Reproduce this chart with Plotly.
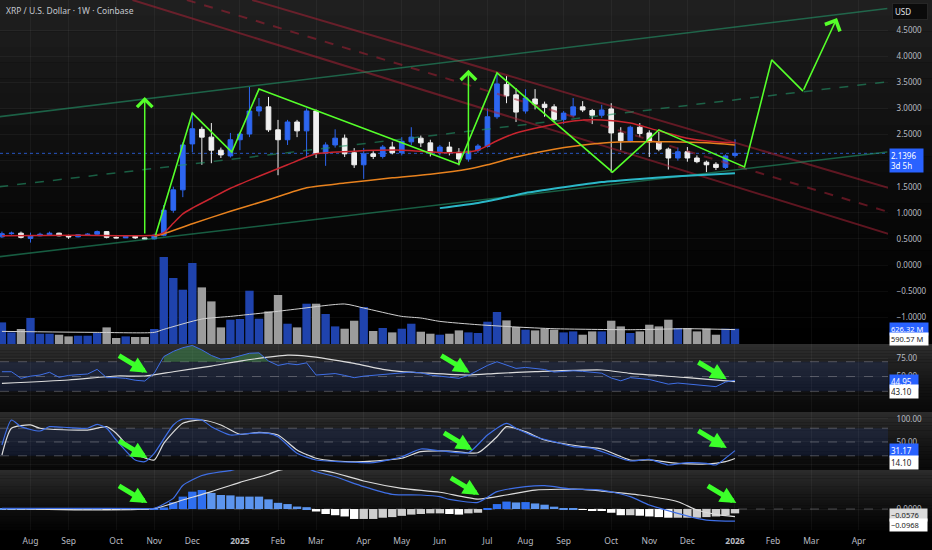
import pandas as pd
import plotly.graph_objects as go

# weekly bars, XRP / USD on Coinbase
WEEKS = pd.date_range("2024-07-15", periods=78, freq="7D")

OPEN = [0.54, 0.60, 0.61, 0.51, 0.56, 0.58, 0.61, 0.56, 0.54, 0.58,
        0.59, 0.64, 0.53, 0.52, 0.55, 0.52, 0.50, 0.57, 1.05, 1.44,
        2.32, 2.60, 2.45, 2.20, 2.09, 2.40, 2.51, 2.95, 3.03, 2.59,
        2.40, 2.74, 2.57, 2.95, 2.14, 2.30, 2.43, 2.15, 1.92, 2.13,
        2.08, 2.26, 2.15, 2.36, 2.43, 2.34, 2.17, 2.26, 2.16, 2.03,
        2.20, 2.27, 2.84, 3.46, 3.26, 2.95, 3.18, 3.08, 3.03, 2.79,
        2.87, 3.03, 2.96, 2.87, 2.99, 2.53, 2.38, 2.64, 2.53, 2.36,
        2.22, 2.05, 2.17, 2.05, 1.97, 1.93, 1.87, 2.10]
HIGH = [0.64, 0.64, 0.64, 0.62, 0.62, 0.64, 0.62, 0.58, 0.59, 0.61,
        0.66, 0.65, 0.55, 0.56, 0.56, 0.53, 0.60, 1.15, 1.50, 2.35,
        2.91, 2.65, 2.72, 2.25, 2.53, 2.55, 3.41, 3.20, 3.22, 2.78,
        2.78, 2.78, 3.00, 2.98, 2.35, 2.60, 2.50, 2.24, 2.24, 2.18,
        2.30, 2.36, 2.45, 2.64, 2.48, 2.40, 2.30, 2.36, 2.24, 2.30,
        2.32, 3.00, 3.66, 3.62, 3.39, 3.37, 3.37, 3.13, 3.08, 2.95,
        3.20, 3.14, 2.99, 3.07, 3.10, 2.64, 2.67, 2.72, 2.58, 2.55,
        2.25, 2.25, 2.26, 2.10, 2.00, 1.97, 2.12, 2.41]
LOW = [0.52, 0.58, 0.51, 0.43, 0.55, 0.56, 0.55, 0.50, 0.53, 0.57,
       0.58, 0.51, 0.51, 0.52, 0.50, 0.49, 0.49, 0.55, 1.00, 1.30,
       2.16, 1.92, 1.95, 2.05, 2.06, 2.20, 2.45, 2.85, 2.55, 1.72,
       2.30, 2.45, 2.05, 2.05, 1.90, 2.25, 2.07, 1.86, 1.65, 2.03,
       2.04, 2.12, 2.10, 2.30, 2.26, 2.08, 2.10, 2.10, 1.91, 1.98,
       2.15, 2.25, 2.80, 3.10, 2.74, 2.90, 2.98, 2.84, 2.75, 2.70,
       2.83, 2.93, 2.70, 2.82, 1.77, 2.20, 2.35, 2.45, 2.07, 2.18,
       1.83, 2.00, 1.98, 1.95, 1.78, 1.82, 1.84, 2.06]
CLOSE = [0.60, 0.61, 0.53, 0.56, 0.59, 0.61, 0.56, 0.54, 0.58, 0.59,
         0.64, 0.53, 0.52, 0.55, 0.52, 0.50, 0.57, 1.05, 1.44, 2.30,
         2.61, 2.45, 2.20, 2.11, 2.40, 2.51, 2.95, 3.03, 2.59, 2.40,
         2.74, 2.57, 2.95, 2.14, 2.30, 2.43, 2.13, 1.92, 2.13, 2.08,
         2.26, 2.15, 2.37, 2.45, 2.34, 2.16, 2.26, 2.17, 2.03, 2.18,
         2.28, 2.84, 3.47, 3.24, 2.93, 3.20, 3.08, 3.02, 2.79, 2.91,
         3.03, 2.97, 2.87, 2.97, 2.53, 2.38, 2.64, 2.52, 2.36, 2.22,
         2.05, 2.17, 2.05, 1.98, 1.92, 1.87, 2.09, 2.1396]
VOLUME_M = [886, 476, 615, 1066, 422, 422, 381, 312, 340, 340,
            451, 681, 246, 312, 287, 287, 615, 3567, 2706, 2226,
            3321, 2321, 1747, 681, 996, 1025, 2185, 1037, 1337, 2009,
            832, 681, 1652, 1652, 1230, 722, 627, 955, 1517, 533,
            656, 476, 627, 832, 504, 422, 381, 422, 558, 476,
            451, 914, 1312, 968, 697, 586, 558, 627, 586, 476,
            517, 381, 517, 517, 955, 722, 451, 517, 791, 722,
            996, 656, 656, 517, 627, 381, 627, 626.32]
VOL_MA_IDX = [0, 10, 16, 17, 21, 24, 28, 31, 36, 38, 42, 44, 46, 50, 54, 58, 66, 72, 77]
VOL_MA = [517, 476, 476, 600, 1025, 1132, 1296, 1435, 1640, 1476, 1132, 1066, 927, 791,
          697, 627, 586, 627, 590.57]

# moving averages on price (read at selected weeks)
RED_MA_IDX = [0, 8, 16, 17, 18, 19, 20, 22, 24, 27, 30, 33, 37, 42, 47, 50, 52, 54, 57,
              60, 63, 66, 69, 72, 75, 77]
RED_MA = [0.56, 0.57, 0.57, 0.62, 0.80, 0.98, 1.09, 1.28, 1.47, 1.70, 1.92, 2.13, 2.18,
          2.20, 2.15, 2.20, 2.38, 2.53, 2.66, 2.76, 2.78, 2.72, 2.57, 2.43, 2.36, 2.34]
ORANGE_MA_IDX = [16, 17, 20, 24, 28, 32, 36, 41, 45, 49, 51, 54, 58, 62, 66, 70, 74, 77]
ORANGE_MA = [0.55, 0.60, 0.79, 1.03, 1.25, 1.48, 1.57, 1.67, 1.74, 1.84, 1.92, 2.07, 2.22,
             2.32, 2.36, 2.36, 2.34, 2.30]
TEAL_MA_IDX = [46, 50, 52, 55, 59, 63, 67, 71, 75, 77]
TEAL_MA = [1.09, 1.19, 1.26, 1.38, 1.49, 1.59, 1.65, 1.70, 1.74, 1.76]

# drawings on the price pane
RED_TOP_X = ["2025-01-15", "2026-04-28"]
RED_TOP_Y = [5.077, 1.475]
RED_MID_X = ["2024-11-28", "2026-04-28"]
RED_MID_Y = [5.077, 1.015]
RED_BOT_X = ["2024-10-19", "2026-04-28"]
RED_BOT_Y = [5.077, 0.594]
GREEN_X = ["2024-07-13", "2026-04-27"]
GREEN_TOP_Y = [2.841, 4.914]
GREEN_MID_Y = [1.50, 3.51]
GREEN_BOT_Y = [0.159, 2.167]

ZIGZAG_X = ["2024-11-05", "2024-12-02", "2024-12-31", "2025-01-20", "2025-06-16",
            "2025-07-14", "2025-10-07", "2025-11-10", "2026-01-12", "2026-02-01",
            "2026-02-24"]
ZIGZAG_Y = [0.575, 2.91, 2.165, 3.37, 1.93, 3.68, 1.78, 2.59, 1.88, 3.93, 3.33]
ZIGZAG_TIP_X = "2026-03-21"
ZIGZAG_TIP_Y = 4.73

MEASURE_X = ["2024-10-28", "2025-06-23"]
MEASURE_LOW = [0.575, 2.10]
MEASURE_HIGH = [3.22, 3.74]

LAST_PRICE = 2.1396

# RSI
RSI = [56.5, 56.5, 47.6, 50.5, 52, 55.7, 49, 51.5, 52.5, 53.4,
       59.7, 48.4, 48.5, 47.5, 45, 43.9, 54.5, 77, 84, 89,
       92, 86, 78.5, 73.5, 74.5, 78.5, 81.5, 82, 71, 65,
       67.5, 66, 68.5, 52, 53.5, 54, 51.5, 48.4, 50.5, 51.5,
       53, 54, 55.3, 56, 55, 52, 50.5, 49, 47.6, 51.5,
       58, 65, 70, 65.5, 61, 62.3, 61, 59.5, 56, 56.5,
       57.8, 57, 56, 54.5, 48, 44.2, 48.5, 47.5, 46, 42.8,
       39.7, 41.2, 40, 38.3, 37.5, 36.3, 42.5, 44.95]
RSI_MA_IDX = [0, 7, 12, 15, 18, 22, 25, 30, 32, 37, 40, 42, 44, 49, 52, 56, 63, 66, 72, 77]
RSI_MA = [40.8, 45.3, 50.7, 50.7, 56.5, 64.2, 70.9, 79, 77.7, 67.8, 59.7, 56.5, 55.1, 52,
          54.3, 56.5, 58.8, 54.3, 48.4, 43.1]
RSI_OB_IDX = list(range(17, 29))

# Stochastic RSI
STOCH_K_IDX = [0, 1, 2, 4, 5, 7, 9, 10, 11, 12, 14, 15, 16, 18, 19, 21, 22, 24, 26, 28,
               29, 31, 33, 37, 39, 42, 44, 46, 49, 51, 53, 54, 56, 58, 60, 62, 64, 66, 68, 70,
               72, 74, 75, 76, 77]
STOCH_K = [43.5, 97.8, 83.3, 73.9, 83.3, 81.1, 79.8, 88.5, 79.8, 54.3, 10.9, 7.2, 25.4, 87,
           100, 97.8, 83.3, 65.2, 68.9, 68.9, 61.5, 25.4, 10.9, 5.9, 5.0, 18, 34.8, 31, 26.7,
           65.2, 90.6, 79.8, 61.5, 50.7, 39.8, 36.3, 21.7, 8.7, 12.4, 0, 5, 3.6, 0, 14.6, 31.17]
STOCH_D_IDX = [0, 1, 3, 4, 9, 11, 12, 14, 16, 17, 19, 21, 23, 25, 27, 29, 31, 33, 35, 38,
               42, 44, 47, 50, 52, 53, 55, 57, 61, 63, 66, 68, 71, 74, 76, 77]
STOCH_D = [21.7, 79.8, 87, 79.8, 76, 83.3, 68.9, 25, 10.9, 47, 90.6, 97.8, 87, 66.7, 71,
           65.2, 32.6, 14.6, 8.7, 7.2, 14.6, 28.9, 30.4, 26.7, 61.5, 83.3, 72.4, 54.3, 39.8,
           34.8, 10.9, 10.9, 3.6, 2.2, 7.2, 14.1]

# MACD
MACD_IDX = [0, 8, 15, 16, 18, 19, 21, 23, 24, 26, 28, 30, 32, 33, 35, 38, 41, 44, 46, 47,
            50, 52, 55, 57, 60, 63, 66, 68, 71, 73, 74, 76, 77]
MACD = [0.006, 0.006, 0.004, 0.006, 0.086, 0.19, 0.27, 0.30, 0.31, 0.35, 0.36, 0.36, 0.33,
        0.30, 0.26, 0.18, 0.118, 0.113, 0.10, 0.078, 0.054, 0.14, 0.18, 0.188, 0.16, 0.153,
        0.10, 0.032, -0.035, -0.075, -0.089, -0.097, -0.0968]
SIGNAL_IDX = [0, 16, 19, 22, 25, 28, 29, 31, 33, 35, 38, 42, 46, 50, 53, 56, 61, 63, 67,
              71, 73, 75, 77]
SIGNAL = [0.004, 0.004, 0.073, 0.14, 0.215, 0.28, 0.31, 0.33, 0.32, 0.29, 0.226, 0.167,
          0.135, 0.08, 0.113, 0.153, 0.159, 0.145, 0.113, 0.059, -0.008, -0.043, -0.062]
HIST = [0.004, 0.004, 0.002, 0.003, 0.002, 0.003, 0.002, 0.001, 0.002, 0.002,
        0.003, -0.001, -0.002, -0.002, -0.003, -0.003, 0.002,
        0.013, 0.054, 0.10, 0.14, 0.153, 0.13, 0.113, 0.11, 0.10, 0.10, 0.10, 0.078, 0.05,
        0.04, 0.02, 0.015,
        -0.02, -0.04, -0.05, -0.06, -0.08, -0.08, -0.08, -0.07, -0.065, -0.055, -0.045,
        -0.04, -0.035, -0.035, -0.04, -0.045, -0.035, -0.03,
        0.002, 0.04, 0.06, 0.053, 0.056, 0.045, 0.035, 0.019, 0.008, 0.005,
        -0.005, -0.01, -0.013, -0.03, -0.05, -0.05, -0.054, -0.06, -0.065, -0.07, -0.07,
        -0.07, -0.07, -0.065, -0.06, -0.05, -0.035]

# green call-out arrows (tip positions) in the three lower panes
RSI_CALL_X = ["2024-10-30", "2025-06-24", "2025-12-30"]
RSI_CALL_Y = [55.1, 55.1, 46.2]
STOCH_CALL_X = ["2024-10-30", "2025-06-26", "2025-12-30"]
STOCH_CALL_Y = [15.2, 32.6, 37]
MACD_CALL_X = ["2024-10-30", "2025-07-01", "2026-01-06"]
MACD_CALL_Y = [0.048, 0.113, 0.048]

TICK_DATES = ["2024-08-05", "2024-09-02", "2024-10-07", "2024-11-04", "2024-12-02",
              "2025-01-06", "2025-02-03", "2025-03-03", "2025-04-07", "2025-05-05",
              "2025-06-02", "2025-07-07", "2025-08-04", "2025-09-01", "2025-10-06",
              "2025-11-03", "2025-12-01", "2026-01-05", "2026-02-02", "2026-03-02",
              "2026-04-06"]
TICK_TEXT = ["Aug", "Sep", "Oct", "Nov", "Dec", "<b>2025</b>", "Feb", "Mar", "Apr", "May",
             "Jun", "Jul", "Aug", "Sep", "Oct", "Nov", "Dec", "<b>2026</b>", "Feb", "Mar",
             "Apr"]
PRICE_TICKS = [-1.0, -0.5, 0.0, 0.5, 1.0, 1.5, 2.0, 2.5, 3.0, 3.5, 4.0, 4.5]

X_RANGE = ["2024-07-13 14:00", "2026-04-27 12:00"]

# COLORS
BLUE = "#2d66f0"
WHITE = "#f0f0f0"
VOL_UP = "#1f43ad"
VOL_DOWN = "#9c9c9c"
LINE_BLUE = "#3f6fe6"
LINE_WHITE = "#dcdcdc"
ZIG_GREEN = "#55ff2a"
CALL_GREEN = "#3cff2a"
RED_LINE = "rgba(165,32,52,0.55)"
GREEN_LINE = "rgba(35,150,105,0.6)"
TEXT = "#b8bbc2"
GRID = "rgba(255,255,255,0.045)"
FONT = "Noto Sans"

# pane layout (paper fractions, plot area is 530 px tall)
MAIN_DOM = [0.35094, 1.0]
RSI_DOM = [0.22264, 0.35094]
STOCH_DOM = [0.11321, 0.22264]
MACD_DOM = [0.0, 0.11321]


def at(idx):
    return [WEEKS[i] for i in idx]


fig = go.Figure()

# volume under the price pane
vol_colors = [VOL_UP if c >= o else VOL_DOWN for o, c in zip(OPEN, CLOSE)]
fig.add_trace(go.Bar(x=WEEKS, y=VOLUME_M, marker=dict(color=vol_colors, line_width=0),
                     xaxis="x", yaxis="y"))
fig.add_trace(go.Scatter(x=at(VOL_MA_IDX), y=VOL_MA, mode="lines",
                         line=dict(color="#d0d0d0", width=1, shape="spline", smoothing=0.6),
                         xaxis="x", yaxis="y"))

# channels
for xs, ys, dash in [(RED_TOP_X, RED_TOP_Y, "solid"), (RED_MID_X, RED_MID_Y, "dash"),
                     (RED_BOT_X, RED_BOT_Y, "solid")]:
    fig.add_trace(go.Scatter(x=xs, y=ys, mode="lines", line=dict(color=RED_LINE, width=2, dash=dash),
                             xaxis="x", yaxis="y2"))
for ys, dash in [(GREEN_TOP_Y, "solid"), (GREEN_MID_Y, "dash"), (GREEN_BOT_Y, "solid")]:
    fig.add_trace(go.Scatter(x=GREEN_X, y=ys, mode="lines",
                             line=dict(color=GREEN_LINE, width=1.5, dash=dash),
                             xaxis="x", yaxis="y2"))

# moving averages
fig.add_trace(go.Scatter(x=at(TEAL_MA_IDX), y=TEAL_MA, mode="lines",
                         line=dict(color="#2bb8c8", width=2, shape="spline", smoothing=0.6),
                         xaxis="x", yaxis="y2"))
fig.add_trace(go.Scatter(x=at(ORANGE_MA_IDX), y=ORANGE_MA, mode="lines",
                         line=dict(color="#e8821e", width=1.5, shape="spline", smoothing=0.6),
                         xaxis="x", yaxis="y2"))
fig.add_trace(go.Scatter(x=at(RED_MA_IDX), y=RED_MA, mode="lines",
                         line=dict(color="#c9252f", width=1.5, shape="spline", smoothing=0.6),
                         xaxis="x", yaxis="y2"))

fig.add_trace(go.Candlestick(
    x=WEEKS, open=OPEN, high=HIGH, low=LOW, close=CLOSE, xaxis="x", yaxis="y2",
    increasing=dict(line=dict(color=BLUE, width=1), fillcolor=BLUE),
    decreasing=dict(line=dict(color=WHITE, width=1), fillcolor=WHITE),
    whiskerwidth=0))

fig.add_trace(go.Scatter(x=ZIGZAG_X, y=ZIGZAG_Y, mode="lines",
                         line=dict(color=ZIG_GREEN, width=1.6), xaxis="x", yaxis="y2"))

# RSI pane
fig.add_trace(go.Scatter(x=at(RSI_OB_IDX), y=[70] * len(RSI_OB_IDX), mode="lines",
                         line=dict(width=0, color="rgba(0,0,0,0)"), xaxis="x2", yaxis="y3"))
fig.add_trace(go.Scatter(x=at(RSI_OB_IDX), y=[RSI[i] for i in RSI_OB_IDX], mode="lines",
                         line=dict(width=0, color="rgba(0,0,0,0)"), fill="tonexty",
                         fillcolor="rgba(70,160,90,0.45)", xaxis="x2", yaxis="y3"))
fig.add_trace(go.Scatter(x=at(RSI_MA_IDX), y=RSI_MA, mode="lines",
                         line=dict(color=LINE_WHITE, width=1.2, shape="spline", smoothing=0.6),
                         xaxis="x2", yaxis="y3"))
fig.add_trace(go.Scatter(x=WEEKS, y=RSI, mode="lines", line=dict(color=LINE_BLUE, width=1),
                         xaxis="x2", yaxis="y3"))

# Stoch RSI pane
fig.add_trace(go.Scatter(x=at(STOCH_D_IDX), y=STOCH_D, mode="lines",
                         line=dict(color=LINE_WHITE, width=1.2, shape="spline", smoothing=0.6),
                         xaxis="x3", yaxis="y4"))
fig.add_trace(go.Scatter(x=at(STOCH_K_IDX), y=STOCH_K, mode="lines",
                         line=dict(color=LINE_BLUE, width=1.2, shape="spline", smoothing=0.6),
                         xaxis="x3", yaxis="y4"))

# MACD pane
hist_colors = []
for i, v in enumerate(HIST):
    prev = HIST[i - 1] if i else v
    if v >= 0:
        hist_colors.append("#2f6ff0" if v > prev else "#5c95ee")
    else:
        hist_colors.append("#ffffff" if v < prev else "#cfcfcf")
fig.add_trace(go.Bar(x=WEEKS, y=HIST, marker=dict(color=hist_colors, line_width=0),
                     xaxis="x4", yaxis="y5"))
fig.add_trace(go.Scatter(x=at(SIGNAL_IDX), y=SIGNAL, mode="lines",
                         line=dict(color=LINE_WHITE, width=1.2, shape="spline", smoothing=0.6),
                         xaxis="x4", yaxis="y5"))
fig.add_trace(go.Scatter(x=at(MACD_IDX), y=MACD, mode="lines",
                         line=dict(color=LINE_BLUE, width=1.2, shape="spline", smoothing=0.6),
                         xaxis="x4", yaxis="y5"))


# background: each pane fades from grey at the top to black
def add_gradient(dom, top, bottom, steps=22, power=1.3):
    y0, y1 = dom
    for k in range(steps):
        t = (k + 0.5) / steps
        c = round(bottom + (top - bottom) * (1 - t) ** power)
        fig.add_shape(type="rect", xref="paper", yref="paper", x0=0, x1=1.06,
                      y0=y1 - (y1 - y0) * (k + 1) / steps - 0.0005,
                      y1=y1 - (y1 - y0) * k / steps,
                      fillcolor=f"rgb({c},{c},{c})", line_width=0, layer="below")


add_gradient(MAIN_DOM, 32, 0, power=1.4)
add_gradient(RSI_DOM, 46, 9)
add_gradient(STOCH_DOM, 44, 9)
add_gradient(MACD_DOM, 44, 4)

# indicator bands and levels
for xr, yr, lo, hi in [("x2 domain", "y3", 30, 70), ("x3 domain", "y4", 20, 80)]:
    fig.add_shape(type="rect", xref=xr, yref=yr, x0=0, x1=1, y0=lo, y1=hi,
                  fillcolor="rgba(41,98,255,0.11)", line_width=0, layer="below")
for xr, yr, lvl, dash in [("x2 domain", "y3", 70, "dash"), ("x2 domain", "y3", 30, "dash"),
                          ("x2 domain", "y3", 50, "dash"),
                          ("x3 domain", "y4", 80, "dash"), ("x3 domain", "y4", 50, "dash"),
                          ("x3 domain", "y4", 20, "dash"), ("x4 domain", "y5", 0, "dash")]:
    fig.add_shape(type="line", xref=xr, yref=yr, x0=0, x1=1, y0=lvl, y1=lvl,
                  line=dict(color="rgba(150,150,160,0.45)", width=1, dash=dash), layer="below")

# last-price dotted line
fig.add_shape(type="line", xref="x domain", yref="y2", x0=0, x1=1, y0=LAST_PRICE, y1=LAST_PRICE,
              line=dict(color="rgba(45,102,240,0.8)", width=1, dash="dot"), layer="below")

annotations = []
# measuring arrows
for x, lo, hi in zip(MEASURE_X, MEASURE_LOW, MEASURE_HIGH):
    annotations.append(dict(x=x, y=hi, ax=x, ay=lo, xref="x", yref="y2", axref="x", ayref="y2",
                            showarrow=True, arrowhead=4, arrowsize=2, arrowwidth=1.5,
                            arrowcolor=ZIG_GREEN, text=""))
annotations.append(dict(x=ZIGZAG_TIP_X, y=ZIGZAG_TIP_Y, ax=ZIGZAG_X[-1], ay=ZIGZAG_Y[-1],
                        xref="x", yref="y2", axref="x", ayref="y2", showarrow=True,
                        arrowhead=4, arrowsize=2, arrowwidth=1.6, arrowcolor=ZIG_GREEN, text=""))

# call-out arrows
for xs, ys, xr, yr in [(RSI_CALL_X, RSI_CALL_Y, "x2", "y3"),
                       (STOCH_CALL_X, STOCH_CALL_Y, "x3", "y4"),
                       (MACD_CALL_X, MACD_CALL_Y, "x4", "y5")]:
    for x, y in zip(xs, ys):
        annotations.append(dict(x=x, y=y, xref=xr, yref=yr, ax=-30, ay=-18, showarrow=True,
                                arrowhead=2, arrowsize=0.65, arrowwidth=5,
                                arrowcolor=CALL_GREEN, text=""))

annotations.append(dict(x=0, y=1, xref="paper", yref="paper", xanchor="left", yanchor="top",
                        xshift=4, yshift=-3, showarrow=False,
                        text="XRP / U.S. Dollar · 1W · Coinbase",
                        font=dict(family=FONT, size=8.5, color="#c4c7ce")))
annotations.append(dict(x=1, y=1, xref="paper", yref="paper", xanchor="left", yanchor="top",
                        xshift=4, yshift=-3, showarrow=False, text="USD", width=30, align="left",
                        bgcolor="#0b0b0b", bordercolor="#262626", borderpad=2,
                        font=dict(family=FONT, size=8, color="#e0e3ea")))


def tag(y, yref, text, bg, fg, width, yshift=0, anchor="middle", size=8):
    annotations.append(dict(x=1, y=y, xref="paper", yref=yref, xanchor="left", yanchor=anchor,
                            xshift=1, yshift=yshift, showarrow=False, text=text, align="left",
                            width=width, bgcolor=bg, borderpad=1,
                            font=dict(family=FONT, size=size, color=fg)))


tag(LAST_PRICE, "y2", "2.1396<br>3d 5h", "#2962ff", "#ffffff", 31, yshift=5, anchor="top")
tag(VOLUME_M[-1], "y", "626.32 M", "#2962ff", "#ffffff", 36, size=7.5)
tag(VOL_MA[-1], "y", "590.57 M", "#ffffff", "#222222", 36, yshift=-9, size=7.5)
tag(RSI[-1], "y3", "44.95", "#2962ff", "#ffffff", 26, yshift=-1)
tag(RSI_MA[-1], "y3", "43.10", "#ffffff", "#222222", 26, yshift=-10)
tag(STOCH_K[-1], "y4", "31.17", "#2962ff", "#ffffff", 26)
tag(STOCH_D[-1], "y4", "14.10", "#ffffff", "#222222", 26, yshift=-4)
tag(SIGNAL[-1], "y5", "−0.0576", "#dcdcdc", "#222222", 35, yshift=2, size=7.5)
tag(MACD[-1], "y5", "−0.0968", "#ffffff", "#222222", 35, yshift=-4, size=7.5)

xcommon = dict(type="date", range=X_RANGE, tickmode="array", tickvals=TICK_DATES,
               ticktext=TICK_TEXT, showgrid=True, gridcolor=GRID, gridwidth=1,
               zeroline=False, showline=False)
ycommon = dict(side="right", showgrid=True, gridcolor=GRID, zeroline=False, showline=False,
               ticks="outside", ticklen=6, tickcolor="rgba(0,0,0,0)",
               tickfont=dict(family=FONT, size=8, color=TEXT), fixedrange=True)

fig.update_layout(
    width=932, height=550,
    margin=dict(l=0, r=44, t=0, b=20),
    paper_bgcolor="#000000", plot_bgcolor="rgba(0,0,0,0)",
    showlegend=False, hovermode=False, bargap=0.12,
    font=dict(family=FONT, color=TEXT),
    xaxis=dict(**xcommon, domain=[0, 1], anchor="y", showticklabels=False,
               rangeslider=dict(visible=False)),
    yaxis=dict(domain=MAIN_DOM, range=[0, 14104], visible=False, showgrid=False),
    yaxis2=dict(**ycommon, overlaying="y", anchor="x", range=[-1.513, 5.077],
                tickmode="array", tickvals=PRICE_TICKS, tickformat=".4f"),
    xaxis2=dict(**xcommon, domain=[0, 1], anchor="y3", matches="x", showticklabels=False),
    yaxis3=dict(**ycommon, domain=RSI_DOM, anchor="x2", range=[2, 94],
                tickmode="array", tickvals=[25, 50, 75], tickformat=".2f"),
    xaxis3=dict(**xcommon, domain=[0, 1], anchor="y4", matches="x", showticklabels=False),
    yaxis4=dict(**ycommon, domain=STOCH_DOM, anchor="x3", range=[-10.9, 115.2],
                tickmode="array", tickvals=[0, 50, 100], tickformat=".2f"),
    xaxis4=dict(**xcommon, domain=[0, 1], anchor="y5", matches="x", showticklabels=True,
                ticks="outside", ticklen=3, tickcolor="rgba(0,0,0,0)",
                tickfont=dict(family=FONT, size=8.5, color=TEXT)),
    yaxis5=dict(**ycommon, domain=MACD_DOM, anchor="x4", range=[-0.169, 0.3145],
                tickmode="array", tickvals=[0], tickformat=".4f"),
    annotations=annotations,
)
for t in fig.data:
    t.hoverinfo = "skip"

# the page's default body margin would shift the chart by 8 px
fig.write_html("out.html", config={"displayModeBar": False},
               post_script="document.body.style.margin='0';")
